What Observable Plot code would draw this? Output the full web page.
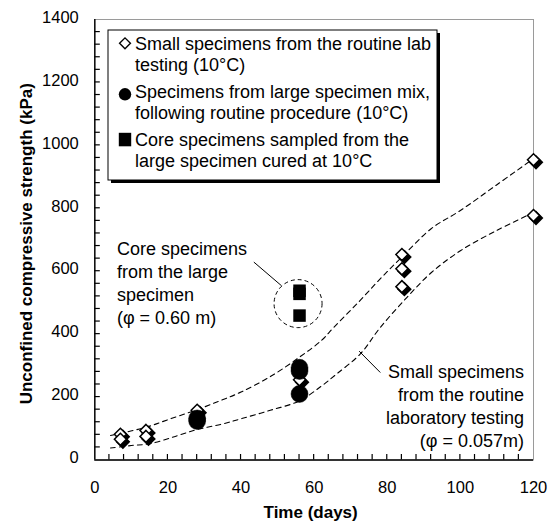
<!DOCTYPE html>
<html><head><meta charset="utf-8">
<script src="https://cdn.jsdelivr.net/npm/d3@7"></script>
<script src="https://cdn.jsdelivr.net/npm/@observablehq/plot@0.6"></script>
<style>body{margin:0;background:#fff}#chart{width:552px;height:522px}</style>
</head><body><div id="chart"></div>
<script>
// Small specimens from routine lab testing (hollow diamonds)
const smallDays = [7, 7, 14, 14, 28, 56, 84, 84, 84, 120, 120];
const smallUCS  = [82, 66, 94, 75, 158, 255, 653, 608, 551, 954, 777];
// Specimens from large specimen mix (filled circles)
const mixDays = [28, 28, 56, 56, 56];
const mixUCS  = [132, 124, 293, 283, 210];
// Core specimens (filled squares)
const coreDays = [56, 56, 56];
const coreUCS  = [538, 528, 459];
// Dashed envelope curves
const upperDays = [4.3, 14, 20.7, 28, 34.4, 40, 48, 56, 62, 65.4, 72, 78, 84, 92, 100, 110, 118.7];
const upperUCS  = [78, 104, 131, 160, 189, 216, 265, 327, 380, 422, 500, 575, 645, 735, 793, 875, 947];
const lowerDays = [4.3, 10, 15.2, 22, 28, 34.4, 40, 48, 56, 62, 66, 72.7, 78, 85.4, 92, 100, 110, 118.3];
const lowerUCS  = [38, 46, 52, 75, 97, 113, 131, 158, 188, 235, 272, 338, 420, 517, 595, 665, 730, 777];
// Ticks
const xTickLabels = [0, 20, 40, 60, 80, 100, 120];
const xMinorTicks = [4,8,12,16,20,24,28,32,36,40,44,48,52,56,60,64,68,72,76,80,84,88,92,96,100,104,108,112,116];
const yTickLabels = [0, 200, 400, 600, 800, 1000, 1200, 1400];
const yMinorTicks = [40,80,120,160,200,240,280,320,360,400,440,480,520,560,600,640,680,720,760,800,840,880,920,960,1000,1040,1080,1120,1160,1200,1240,1280,1320,1360];
// Annotations
const coreNote = "Core specimens\nfrom the large\nspecimen\n(φ = 0.60 m)";
const smallNote = "Small specimens\nfrom the routine\nlaboratory testing\n(φ = 0.057m)";
const legendItems = [
  {symbol: "diamond", lines: ["Small specimens from the routine lab", "testing (10°C)"]},
  {symbol: "circle", lines: ["Specimens from large specimen mix,", "following routine procedure (10°C)"]},
  {symbol: "square", lines: ["Core specimens sampled from the", "large specimen cured at 10°C"]}
];

const small = smallDays.map((d, i) => ({d, v: smallUCS[i]}));
const mix = mixDays.map((d, i) => ({d, v: mixUCS[i]}));
const core = coreDays.map((d, i) => ({d, v: coreUCS[i]}));
const upper = upperDays.map((d, i) => ({d, v: upperUCS[i]}));
const lower = lowerDays.map((d, i) => ({d, v: lowerUCS[i]}));

const FONT = "'Liberation Sans', Arial, sans-serif";

const plot = Plot.plot({
  width: 552, height: 522,
  marginLeft: 94.3, marginRight: 19, marginTop: 19, marginBottom: 62.5,
  style: {fontFamily: FONT, background: "white", overflow: "visible"},
  x: {domain: [0, 120]},
  y: {domain: [0, 1400]},
  marks: [
    Plot.frame({stroke: "#9a9a9a", strokeWidth: 1}),
    // curves
    Plot.line(upper, {x: "d", y: "v", curve: "catmull-rom", stroke: "black", strokeWidth: 1.1, strokeDasharray: "5,4"}),
    Plot.line(lower, {x: "d", y: "v", curve: "catmull-rom", stroke: "black", strokeWidth: 1.1, strokeDasharray: "5,4"}),
    // annotation circle & leaders
    Plot.dot([{d: 55.6, v: 497}], {x: "d", y: "v", r: 24, stroke: "black", strokeWidth: 1, strokeDasharray: "4,3", fill: "none"}),
    Plot.link([{x1: 43.5, y1: 629, x2: 51.06, y2: 554}, {x1: 72.3, y1: 346, x2: 78.1, y2: 278}],
      {x1: "x1", y1: "y1", x2: "x2", y2: "y2", stroke: "black", strokeWidth: 1}),
    // diamonds with drop shadow
    Plot.dot(small, {x: "d", y: "v", symbol: "diamond2", r: 5.4, fill: "black", stroke: "black", strokeWidth: 2, dx: 2.5, dy: 2.5}),
    Plot.dot(small, {x: "d", y: "v", symbol: "diamond2", r: 5.4, fill: "white", stroke: "black", strokeWidth: 1.5}),
    // circles
    Plot.dot(mix, {x: "d", y: "v", r: 8.5, fill: "black", stroke: "black", strokeWidth: 0.5}),
    // squares
    Plot.dot(core, {x: "d", y: "v", symbol: "square", r: 7.05, fill: "black"}),
    // axes lines
    Plot.ruleX([0], {stroke: "black", strokeWidth: 1.4}),
    Plot.ruleY([0], {stroke: "black", strokeWidth: 1.4}),
    // tick labels
    Plot.axisX(xTickLabels, {tickSize: 0, tickPadding: 21, label: null, fontSize: 16.5, fill: "black", tickFormat: d => String(d)}),
    Plot.axisY(yTickLabels, {tickSize: 0, tickPadding: 16, label: null, fontSize: 16.5, fill: "black", dy: -2, tickFormat: d => String(d)}),
    // axis titles
    Plot.text(["Time (days)"], {frameAnchor: "bottom", dy: 52.5, dx: -3.5, text: d => d, fontSize: 17, fontWeight: "bold", fill: "black", textAnchor: "middle", lineAnchor: "middle"}),
    Plot.text(["Unconfined compressive strength (kPa)"], {frameAnchor: "left", dx: -68.3, dy: 4, rotate: -90, text: d => d, fontSize: 17, fontWeight: "bold", fill: "black", textAnchor: "middle", lineAnchor: "middle"}),
    // notes
    Plot.text([coreNote], {x: 6.05, y: 565, text: d => d, textAnchor: "start", lineAnchor: "middle", lineHeight: 1.28, fontSize: 18, fill: "black"}),
    Plot.text([smallNote], {x: 117.4, y: 173.4, text: d => d, textAnchor: "end", lineAnchor: "middle", lineHeight: 1.28, fontSize: 18, fill: "black"})
  ]
});

const svg = d3.select(plot);
// Inward minor ticks, positioned with the plot's own scales
const xs = plot.scale("x"), ys = plot.scale("y");
const x0 = xs.apply(0), y0 = ys.apply(0);
const tg = svg.append("g").attr("stroke", "black").attr("stroke-width", 1.2);
xMinorTicks.forEach(t => {
  const px = xs.apply(t);
  tg.append("line").attr("x1", px).attr("x2", px).attr("y1", y0).attr("y2", y0 - 5.5);
});
yMinorTicks.forEach(t => {
  const py = ys.apply(t);
  tg.append("line").attr("x1", x0).attr("x2", x0 + 5.5).attr("y1", py).attr("y2", py);
});

// Legend box drawn into the SVG
const lg = svg.append("g").attr("font-family", FONT).attr("font-size", 18).attr("text-anchor", "start");
const bx = 108, by = 30, bw = 329, bh = 150;
lg.append("rect").attr("x", bx + 3).attr("y", by + 3).attr("width", bw).attr("height", bh).attr("fill", "black");
lg.append("rect").attr("x", bx).attr("y", by).attr("width", bw).attr("height", bh).attr("fill", "white").attr("stroke", "black").attr("stroke-width", 1);
legendItems.forEach((item, i) => {
  const cy = 43.3 + i * 48;
  const mx = 125;
  if (item.symbol === "diamond") {
    lg.append("path").attr("d", d3.symbol(d3.symbolDiamond2, 75)()).attr("transform", `translate(${mx},${cy})`)
      .attr("fill", "white").attr("stroke", "black").attr("stroke-width", 1.4);
  } else if (item.symbol === "circle") {
    lg.append("circle").attr("cx", mx).attr("cy", cy + 3).attr("r", 6.2).attr("fill", "black");
  } else {
    lg.append("rect").attr("x", mx - 6.2).attr("y", cy - 6.5).attr("width", 12.4).attr("height", 13.5).attr("fill", "black");
  }
  item.lines.forEach((t, j) => {
    lg.append("text").attr("x", 135).attr("y", cy + j * 21.7).attr("dy", "0.35em").attr("fill", "black").attr("text-anchor", "start").text(t);
  });
});

document.getElementById("chart").appendChild(plot);
</script>
</body></html>
